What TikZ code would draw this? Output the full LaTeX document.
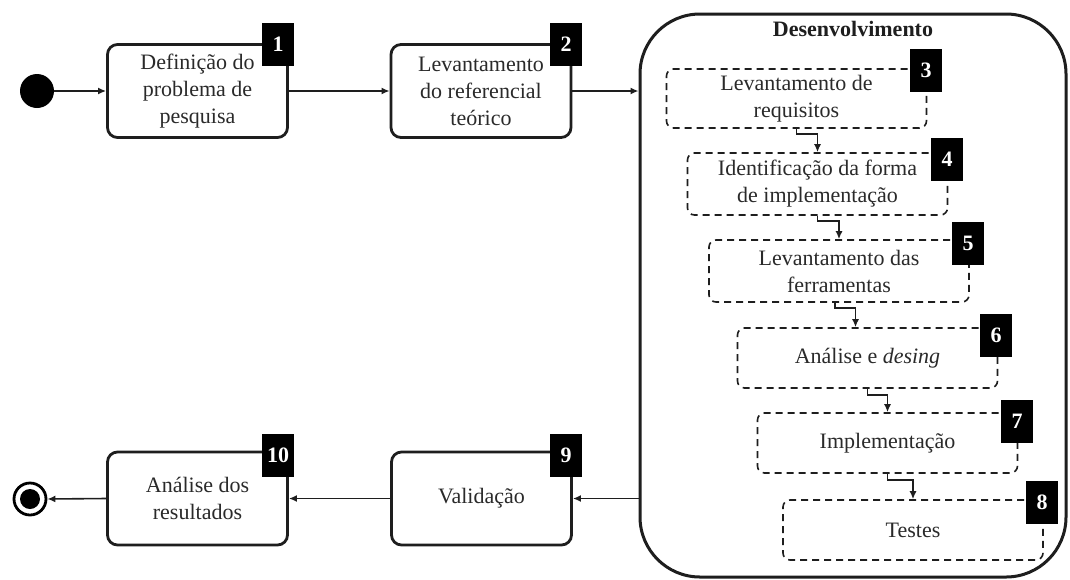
\documentclass[tikz,border=0pt]{standalone}
\usepackage{fontspec}
\setmainfont{Liberation Serif}
\usetikzlibrary{arrows.meta,calc}
\definecolor{ink}{HTML}{1E1E1E}
\definecolor{txt}{HTML}{2A2A2A}
\begin{document}
\begin{tikzpicture}[x=0.5pt,y=-0.5pt,
  font=\fontsize{11}{13.5}\selectfont,
  act/.style={draw=ink, line width=1.4pt, rounded corners=5pt, align=center,
    inner sep=0pt, minimum width=90pt, minimum height=46.5pt, text=txt},
  sub/.style={draw=ink, line width=0.8pt, dash pattern=on 3.5pt off 2.5pt,
    rounded corners=3.5pt, align=center, inner sep=0pt,
    minimum width=130pt, minimum height=30pt, text=txt},
  badge/.style={fill=black, text=white, font=\fontsize{11}{13}\selectfont\bfseries,
    minimum width=16pt, minimum height=21.5pt, inner sep=0pt},
  flow/.style={draw=ink, line width=0.8pt, -{Latex[length=4pt,width=3.5pt]}},
]
\useasboundingbox (0,0) rectangle (1070,579);
\fill[white] (0,0) rectangle (1070,579);

% container of the development activities
\node[draw=ink, line width=1.5pt, rounded corners=30pt, minimum width=213pt,
      minimum height=281.5pt, inner sep=0pt] (dev) at (853,295.5) {};
\node[font=\fontsize{11}{13.5}\selectfont\bfseries, text=ink] (devtitle) at (853,29) {Desenvolvimento};

% initial and final states
\node[circle, fill=black, minimum size=17pt, inner sep=0pt] (start) at (37,91) {};
\node[circle, draw=black, line width=1.4pt, minimum size=16pt, inner sep=0pt] (end) at (30,499) {};
\fill[black] (end.center) circle[radius=5pt];

% main activities
\node[act] (b1) at (197.5,91) {Definição do\\problema de\\pesquisa};
\node[act] (b2) at (481,91) {Levantamento\\do referencial\\teórico};
\node[act] (b9) at (481.5,498.5) {Validação};
\node[act] (b10) at (197.5,498.5) {Análise dos\\resultados};

% development sub-activities
\node[sub, minimum height=29.5pt] (b3) at (796.5,98.5) {Levantamento de\\requisitos};
\node[sub, minimum height=31pt] (b4) at (817.5,184) {Identificação da forma\\de implementação};
\node[sub, minimum height=31pt] (b5) at (839,271) {Levantamento das\\ferramentas};
\node[sub] (b6) at (867.5,358) {Análise e \textit{desing}};
\node[sub] (b7) at (887.5,443) {Implementação};
\node[sub] (b8) at (913,530) {Testes};

% step numbers
\node[badge] (n1) at (278,44) {1};
\node[badge] (n2) at (566,44) {2};
\node[badge] (n3) at (926,70.5) {3};
\node[badge] (n4) at (947,159) {4};
\node[badge] (n5) at (968,243.5) {5};
\node[badge] (n6) at (996,335) {6};
\node[badge] (n7) at (1017,421) {7};
\node[badge] (n8) at (1042,502) {8};
\node[badge] (n9) at (566,455) {9};
\node[badge] (n10) at (278,455) {10};

% flow of the main activities
\draw[flow] (start) -- (b1.west);
\draw[flow] (b1.east) -- (b2.west);
\draw[flow] (b2.east) -- (b2.east -| dev.west);
\draw[flow] (dev.west |- b9.east) -- (b9.east);
\draw[flow] (b9.west) -- (b10.east);
\draw[flow] (b10.west) -- (end.east);

% flow inside the development block
\draw[flow] (b3.south) -- ++(0,5) -| (b4.north);
\draw[flow] (b4.south) -- ++(0,5) -| (b5.north);
\draw[flow] ([xshift=-2pt]b5.south) -- ++(0,5) -| ([xshift=-6pt]b6.north);
\draw[flow] (b6.south) -- ++(0,6) -| (b7.north);
\draw[flow] (b7.south) -- ++(0,6) -| (b8.north);
\end{tikzpicture}
\end{document}
